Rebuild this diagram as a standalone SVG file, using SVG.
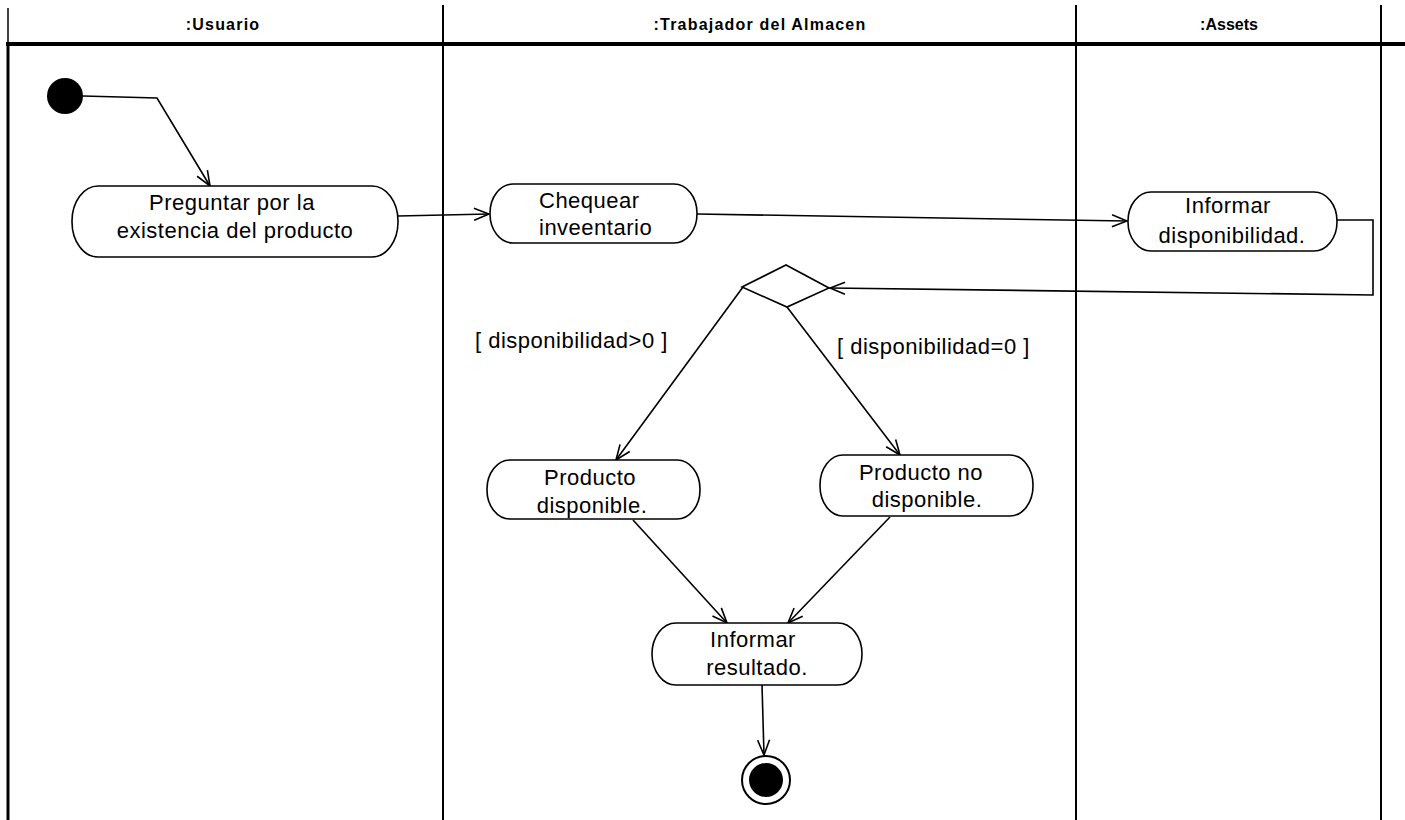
<svg xmlns="http://www.w3.org/2000/svg" width="1405" height="820" viewBox="0 0 1405 820">
  <style>
    .lane { stroke: #000; fill: none; }
    .hdr { font-family: "Liberation Sans", Arial, sans-serif; font-size: 16px; font-weight: bold; fill: #000; text-anchor: middle; letter-spacing: 1.2px; }
    .act { fill: #fff; stroke: #000; stroke-width: 1.6; }
    .lbl { font-family: "Liberation Sans", Arial, sans-serif; font-size: 22px; fill: #000; text-anchor: middle; letter-spacing: 0.5px; }
    .guard { font-family: "Liberation Sans", Arial, sans-serif; font-size: 22px; fill: #000; letter-spacing: 0.5px; }
    .edge { stroke: #000; stroke-width: 1.6; fill: none; marker-end: url(#open); }
  </style>
  <defs>
    <marker id="open" markerUnits="userSpaceOnUse" markerWidth="18" markerHeight="14" refX="16" refY="7" orient="auto">
      <path d="M1,1 L16,7 L1,13" fill="none" stroke="#000" stroke-width="1.6"/>
    </marker>
  </defs>

  <rect width="1405" height="820" fill="#fff"/>

  <!-- swimlanes -->
  <g id="swimlanes">
    <line class="lane" x1="8" y1="8" x2="8" y2="44" stroke-width="1.5"/>
    <line class="lane" x1="8" y1="44" x2="8" y2="820" stroke-width="3"/>
    <rect x="6" y="42" width="1399" height="4" fill="#000"/>
    <line class="lane" x1="443" y1="5" x2="443" y2="820" stroke-width="2"/>
    <line class="lane" x1="1076" y1="5" x2="1076" y2="820" stroke-width="2"/>
    <line class="lane" x1="1381" y1="5" x2="1381" y2="820" stroke-width="2"/>
    <text class="hdr" x="223" y="30">:Usuario</text>
    <text class="hdr" x="760" y="30">:Trabajador del Almacen</text>
    <text class="hdr" x="1229" y="30" style="letter-spacing:0">:Assets</text>
  </g>

  <!-- connectors -->
  <g id="connectors">
    <polyline class="edge" points="83,96 157,98 210,186"/>
    <line class="edge" x1="398" y1="216" x2="489" y2="214"/>
    <line class="edge" x1="697" y1="214" x2="1127" y2="221"/>
    <polyline class="edge" points="1337,220 1373,220 1373,295 830,288"/>
    <line class="edge" x1="743" y1="287" x2="616" y2="460"/>
    <line class="edge" x1="787" y1="307" x2="900" y2="455"/>
    <line class="edge" x1="633" y1="520" x2="727" y2="623"/>
    <line class="edge" x1="890" y1="517" x2="788" y2="623"/>
    <line class="edge" x1="762" y1="685" x2="764" y2="755"/>
    <text class="guard" x="475" y="348">[ disponibilidad&gt;0 ]</text>
    <text class="guard" x="837" y="354">[ disponibilidad=0 ]</text>
  </g>

  <!-- initial state -->
  <g id="initial">
    <circle cx="65" cy="96" r="18" fill="#000"/>
  </g>

  <g id="preguntar">
    <rect class="act" x="72" y="186" width="326" height="71" rx="26" ry="35"/>
    <text class="lbl" x="232" y="210">Preguntar por la</text>
    <text class="lbl" x="235" y="238">existencia del producto</text>
  </g>

  <g id="chequear">
    <rect class="act" x="490" y="184" width="207" height="59" rx="23" ry="29"/>
    <text class="lbl" x="539" y="208" style="text-anchor:start">Chequear</text>
    <text class="lbl" x="539" y="235" style="text-anchor:start">inveentario</text>
  </g>

  <g id="informar-disponibilidad">
    <rect class="act" x="1128" y="192" width="209" height="59" rx="23" ry="29"/>
    <text class="lbl" x="1228" y="213">Informar</text>
    <text class="lbl" x="1232" y="243">disponibilidad.</text>
  </g>

  <g id="decision">
    <polygon class="act" points="742,287 786,265 829,288 787,307"/>
  </g>

  <g id="producto-disponible">
    <rect class="act" x="487" y="460" width="213" height="59" rx="23" ry="29"/>
    <text class="lbl" x="590" y="485">Producto</text>
    <text class="lbl" x="592" y="513">disponible.</text>
  </g>

  <g id="producto-no-disponible">
    <rect class="act" x="820" y="455" width="213" height="61" rx="23" ry="30"/>
    <text class="lbl" x="921" y="480">Producto no</text>
    <text class="lbl" x="927" y="507">disponible.</text>
  </g>

  <g id="informar-resultado">
    <rect class="act" x="652" y="623" width="210" height="62" rx="24" ry="31"/>
    <text class="lbl" x="753" y="647">Informar</text>
    <text class="lbl" x="757" y="675">resultado.</text>
  </g>

  <!-- final state -->
  <g id="final">
    <circle cx="766" cy="780" r="24" fill="#fff" stroke="#000" stroke-width="2"/>
    <circle cx="766" cy="780" r="17" fill="#000"/>
  </g>
</svg>
